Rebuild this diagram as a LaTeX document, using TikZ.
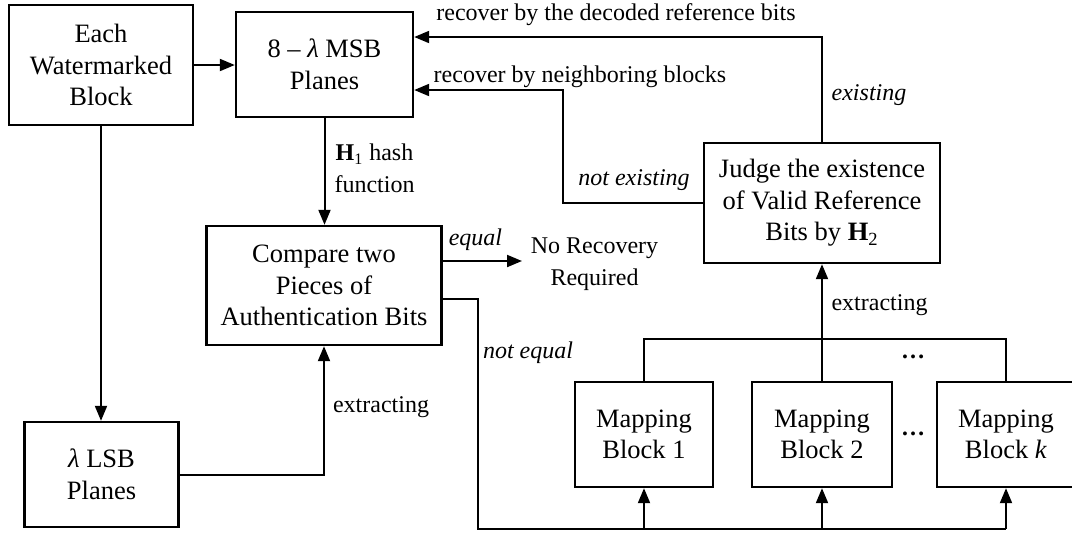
\documentclass[tikz,border=0pt]{standalone}
\usepackage{fontspec}
\setmainfont{Liberation Serif}
\usepackage{tikz}
\usetikzlibrary{arrows.meta}
\usetikzlibrary{calc}

\begin{document}
\begin{tikzpicture}[x=0.5pt, y=-0.5pt,
		every node/.style={font=\fontsize{12}{15.8}\selectfont},
		blk/.style={draw, line width=1.2pt, inner sep=0pt, align=center, font=\fontsize{13.25}{15.8}\selectfont},
		arr/.style={line width=1pt, -{Triangle[length=7.5pt, width=6pt]}},
		wire/.style={line width=1pt}]
			\useasboundingbox (0,0) rectangle (1072,532);
			\node[blk, minimum width=92pt, minimum height=60pt] (each) at (101,65) {Each\\Watermarked\\Block};
			\node[blk, minimum width=88.5pt, minimum height=52.5pt] (msb) at (324.5,64.5) {8 – \textit{λ} MSB\\Planes};
			\node[blk, minimum width=117.5pt, minimum height=59.5pt] (cmp) at (324,285.5) {Compare two\\Pieces of\\Authentication Bits};
			\node[blk, minimum width=77pt, minimum height=52.5pt] (lsb) at (101.5,474.5) {\textit{λ} LSB\\Planes};
			\node[blk, minimum width=118pt, minimum height=60pt] (judge) at (822,203) {Judge the existence\\of Valid Reference\\Bits by \textbf{H}\textsubscript{2}};
			\node[blk, minimum width=69pt, minimum height=52.5pt] (map1) at (644,434.5) {Mapping\\Block 1};
			\node[blk, minimum width=70pt, minimum height=52.5pt] (map2) at (822,434.5) {Mapping\\Block 2};
			\node[blk, minimum width=69pt, minimum height=52.5pt] (mapk) at (1006,434.5) {Mapping\\Block \textit{k}};
			\node[align=center] (norec) at (594.5,264) {No Recovery\\Required};
			\node (dotsa) at (913,357) {\textbf{\ldots}};
			\node (dotsb) at (913,434) {\textbf{\ldots}};
			\coordinate (eqend) at (522,261);
			\coordinate (neq) at (478,299);
			\coordinate (bot) at (478,529);
			\coordinate (bus) at (822,339);
			\coordinate (ex) at (822,37);
			\coordinate (nex) at (563,90);
			\draw[arr] (each.east) -- (each.east -| msb.west);
			\draw[arr] (each.south) -- (each.south |- lsb.north);
			\draw[arr] (msb.south) -- (msb.south |- cmp.north);
			\draw[arr] (lsb.east) -| (cmp.south);
			\draw[arr] (cmp.east |- eqend) -- (eqend);
			\draw[wire] (cmp.east |- neq) -- (neq) -- (bot) -- (bot -| mapk.south);
			\foreach\m in {map1,map2,mapk} \draw[arr] (bot -| \m.south) -- (\m.south);
			\draw[wire] (map1.north) |- (bus) -| (mapk.north);
			\draw[arr] (map2.north) -- (judge.south);
			\draw[arr] (judge.north) -- (ex) -- (ex -| msb.east);
			\draw[arr] (judge.west) -| (nex) -- (nex -| msb.east);
			\node (lblref) at (616,15) {recover by the decoded reference bits};
			\node (lblnb) at (580,77) {recover by neighboring blocks};
			\node (lblex) at (869,95) {\textit{existing}};
			\node (lblnex) at (634,180) {\textit{not existing}};
			\node[align=center] (lblhash) at (374.5,168) {\textbf{H}\textsubscript{1} hash\\function};
			\node (lbleq) at (475.5,240) {\textit{equal}};
			\node (lblneq) at (528,353) {\textit{not equal}};
			\node (lblexa) at (381,407) {extracting};
			\node (lblexb) at (879.5,305) {extracting};
		\end{tikzpicture}
\end{document}
